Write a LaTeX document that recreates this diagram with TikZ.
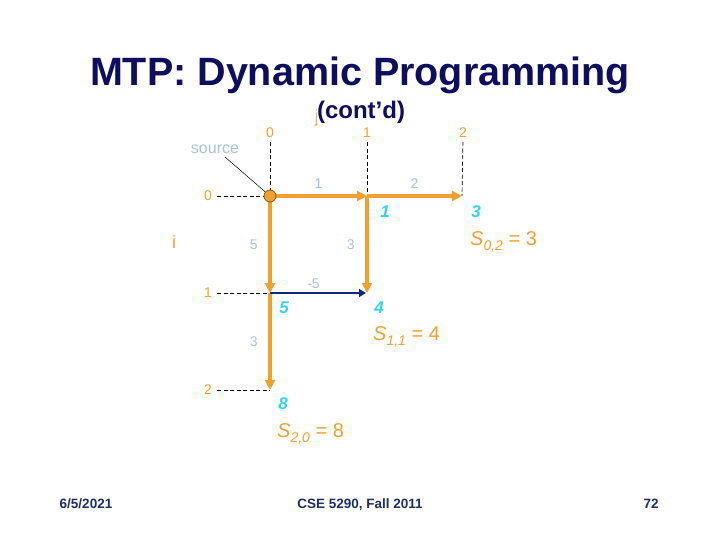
\documentclass[tikz,border=0pt]{standalone}
\usepackage{fontspec}
\setmainfont{Liberation Sans}
\usepackage{xcolor}
\usetikzlibrary{arrows.meta, positioning}

\definecolor{titlenavy}{HTML}{0E0E5E}
\definecolor{footnavy}{HTML}{1C2F66}
\definecolor{dporange}{HTML}{F0A030}
\definecolor{dpbrown}{HTML}{8A5A14}
\definecolor{wtblue}{HTML}{A9C2D9}
\definecolor{scorecyan}{HTML}{33D3EE}
\definecolor{negnavy}{HTML}{0C2A78}

\newcommand{\sub}[1]{\raisebox{-5pt}{\fontsize{14}{14}\selectfont\itshape #1}}

\begin{document}
\begin{tikzpicture}[
  x=1pt, y=-1pt,
  >={Triangle[length=10pt,width=10pt]},
  idx/.style={text=dporange, font=\fontsize{14}{16}\selectfont, inner sep=1pt},
  wt/.style={text=wtblue, font=\fontsize{14}{16}\selectfont, inner sep=1pt},
  score/.style={text=scorecyan, font=\fontsize{17}{19}\selectfont\bfseries\itshape, inner sep=0pt},
  sval/.style={text=dporange, font=\fontsize{20}{22}\selectfont, anchor=base west, inner sep=0pt},
  guide/.style={draw=black, dash pattern=on 4pt off 2.5pt, line width=0.7pt},
  trail/.style={draw=dporange, line width=4.5pt, ->},
  foot/.style={text=footnavy, font=\fontsize{13.5}{15}\selectfont\bfseries, anchor=base}
]
  \fill[white] (0,0) rectangle (720,540);
  \useasboundingbox (0,0) rectangle (720,540);

  % title
  \node[anchor=base, text=titlenavy, font=\fontsize{39.5}{43}\selectfont\bfseries] (title) at (360,86) {MTP: Dynamic Programming};
  \node[text=dporange, font=\fontsize{18}{20}\selectfont] (jaxis) at (317,118) {j};
  \node[anchor=base, fill=white, inner sep=0pt, text=titlenavy, font=\fontsize{24}{26}\selectfont\bfseries] (contd) at (361,119) {(cont'd)};

  % grid points
  \coordinate (n00) at (270,196);
  \coordinate (n01) at (367,196);
  \coordinate (n02) at (462,196);
  \coordinate (n10) at (270,293);
  \coordinate (n11) at (367,293);
  \coordinate (n20) at (270,390);

  % column and row indices
  \node[idx] (c0) at (270,133) {0};
  \node[idx] (c1) at (367,133) {1};
  \node[idx] (c2) at (463,133) {2};
  \node[idx] (r0) at (208,196) {0};
  \node[idx] (r1) at (208,293) {1};
  \node[idx] (r2) at (208,390) {2};
  \node[text=dporange, font=\fontsize{18}{20}\selectfont] (iaxis) at (174,242) {i};

  \draw[guide, shorten <=3pt] (c0.south) -- (n00);
  \draw[guide, shorten <=3pt] (c1.south) -- (n01);
  \draw[guide, shorten <=3pt] (c2.south) -- (n02);
  \draw[guide, shorten <=4pt] (r0.east) -- (n00);
  \draw[guide, shorten <=4pt] (r1.east) -- (n10);
  \draw[guide, shorten <=4pt] (r2.east) -- (n20);

  % edges
  \draw[trail] (n00) -- node[wt, above=4pt] {1} (n01);
  \draw[trail] (n01) -- node[wt, above=4pt] {2} (n02);
  \draw[trail] (n00) -- node[wt, left=9pt] {5} (n10);
  \draw[trail] (n10) -- node[wt, left=9pt] {3} (n20);
  \draw[->, draw=negnavy, line width=2.2pt, >={Triangle[length=7pt,width=8pt]}, shorten >=1pt]
    (n10) -- node[wt, above=2pt, xshift=-5pt] {-5} (n11);
  \draw[trail] (n01) -- node[wt, left=9pt] {3} (n11);

  % source
  \node[circle, fill=dporange, draw=dpbrown, line width=0.8pt, minimum size=12pt, inner sep=0pt] (src) at (n00) {};
  \node[text=wtblue, font=\fontsize{16}{18}\selectfont] (srclabel) at (215,149) {source};
  \coordinate (srctail) at (225,157);
  \draw[line width=0.5pt] (srctail) -- (src);

  % scores
  \node[score] (s01) at (385,212) {1};
  \node[score] (s02) at (476,212) {3};
  \node[score] (s10) at (284,308) {5};
  \node[score] (s11) at (379,308) {4};
  \node[score] (s20) at (283,404) {8};

  \node[sval] (v02) at (470,245) {\textit{S}\sub{0,2} = 3};
  \node[sval] (v11) at (373,340) {\textit{S}\sub{1,1} = 4};
  \node[sval] (v20) at (277,437) {\textit{S}\sub{2,0} = 8};

  % footer
  \node[foot] (date) at (86,508) {6/5/2021};
  \node[foot] (course) at (360,508) {CSE 5290, Fall 2011};
  \node[foot] (page) at (651,508) {72};
\end{tikzpicture}
\end{document}
